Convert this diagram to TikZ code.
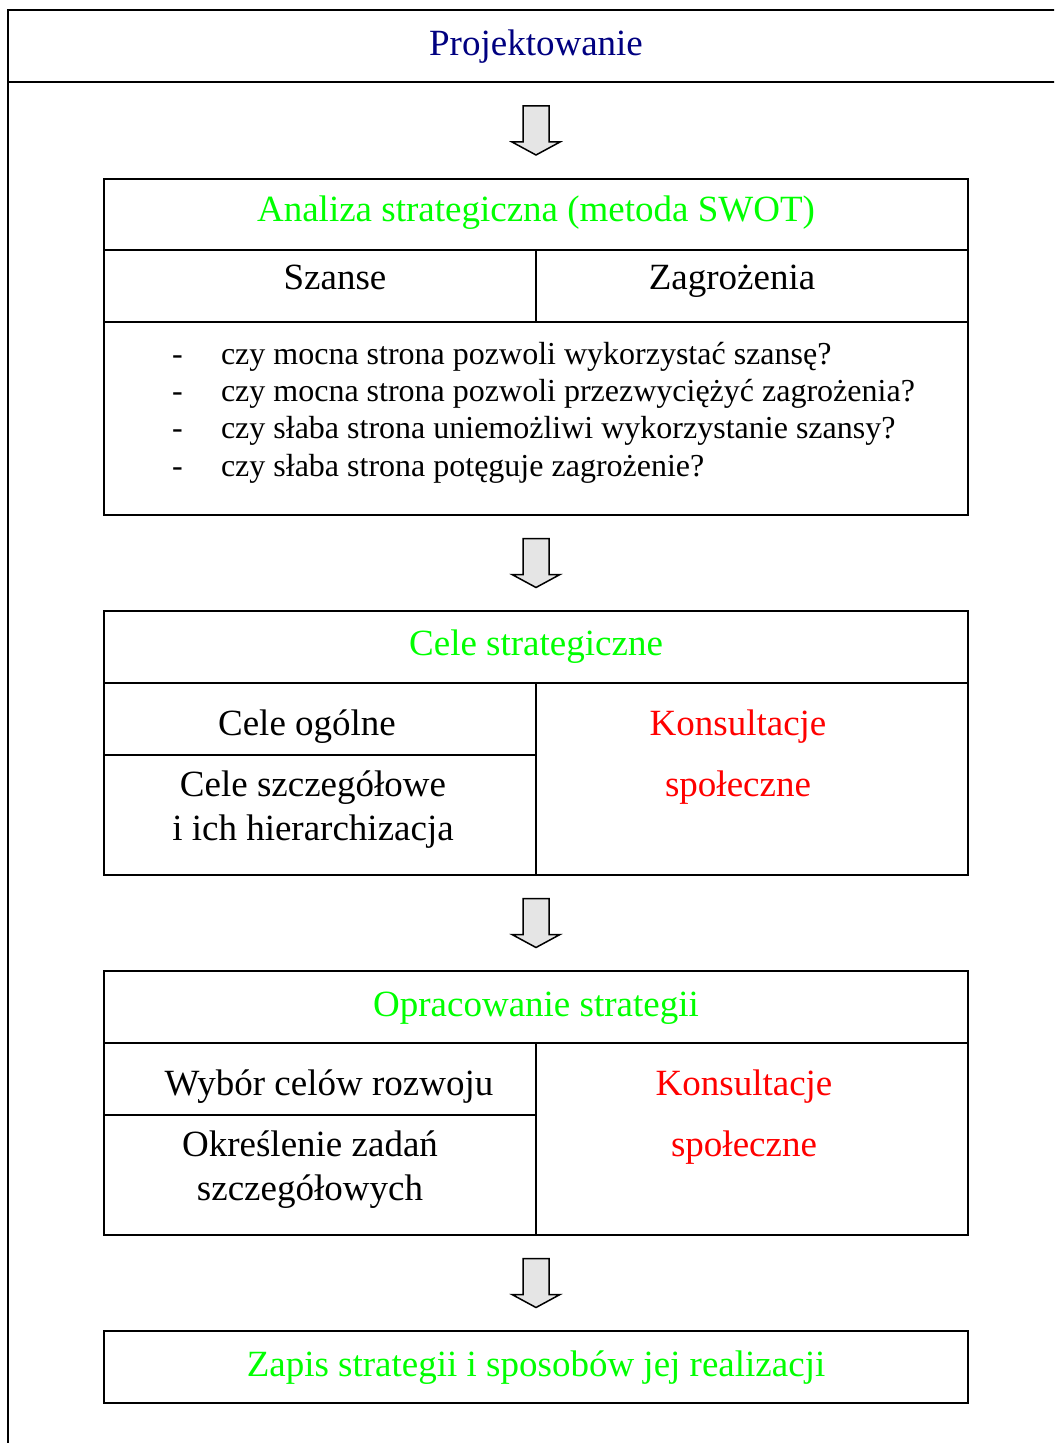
\documentclass[tikz,border=0pt]{standalone}
\usepackage{fontspec}
\setmainfont{Liberation Serif}
\usetikzlibrary{calc}
\newlength{\du}
\setlength{\du}{0.5pt}
\definecolor{headcolor}{rgb}{0.000000, 0.000000, 0.502000}
\definecolor{titlecolor}{rgb}{0.000000, 1.000000, 0.000000}
\definecolor{notecolor}{rgb}{1.000000, 0.000000, 0.000000}
\definecolor{arrowfill}{rgb}{0.900000, 0.900000, 0.900000}
\tikzset{
  panel/.style={draw, line width=2\du, inner sep=0pt, outer sep=0pt, minimum width=864\du},
  rule/.style={line width=2\du},
  label/.style={anchor=base, inner sep=0pt, outer sep=0pt, align=center,
    font=\fontsize{18.5}{22}\selectfont},
  item/.style={anchor=base west, inner sep=0pt, outer sep=0pt,
    font=\fontsize{16}{19}\selectfont},
  downarrow/.pic={
    \draw[line width=1.5\du, fill=arrowfill, line join=miter]
      (-13\du,24.5\du)--(-13\du,-11.5\du)--(-24\du,-11.5\du)--(0\du,-24.5\du)
      --(24\du,-11.5\du)--(13\du,-11.5\du)--(13\du,24.5\du)--cycle;
  }
}
\begin{document}
\begin{tikzpicture}
\pgftransformxscale{1.000000}
\pgftransformyscale{-1.000000}
\clip (0\du,0\du) rectangle (1054\du,1443\du);
% header frame
\node[panel, minimum width=1054\du, minimum height=72\du] (hdr) at (535\du,46\du) {};
\draw[rule] (hdr.south west)--(8\du,1460\du);
\node[label, color=headcolor] (projekt) at (536\du,56\du) {Projektowanie};
% swot panel
\node[panel, minimum height=336\du] (swot) at (536\du,347\du) {};
\draw[rule] (104\du,250\du)--(968\du,250\du);
\draw[rule] (104\du,322\du)--(968\du,322\du);
\draw[rule] (536\du,250\du)--(536\du,322\du);
\node[label, color=titlecolor] (swottitle) at (536\du,222\du) {Analiza strategiczna (metoda SWOT)};
\node[label] (szanse) at (335\du,290\du) {Szanse};
\node[label] (zagrozenia) at (732\du,290\du) {Zagrożenia};
\node[item] (dasha) at (172\du,365\du) {-};
\node[item] (itema) at (221\du,365\du) {czy mocna strona pozwoli wykorzystać szansę?};
\node[item] (dashb) at (172\du,401\du) {-};
\node[item] (itemb) at (221\du,401\du) {czy mocna strona pozwoli przezwyciężyć zagrożenia?};
\node[item] (dashc) at (172\du,438\du) {-};
\node[item] (itemc) at (221\du,438\du) {czy słaba strona uniemożliwi wykorzystanie szansy?};
\node[item] (dashd) at (172\du,476\du) {-};
\node[item] (itemd) at (221\du,476\du) {czy słaba strona potęguje zagrożenie?};
% goals panel
\node[panel, minimum height=264\du] (cele) at (536\du,743\du) {};
\draw[rule] (104\du,683\du)--(968\du,683\du);
\draw[rule] (104\du,755\du)--(536\du,755\du);
\draw[rule] (536\du,683\du)--(536\du,875\du);
\node[label, color=titlecolor] (celetitle) at (536\du,655\du) {Cele strategiczne};
\node[label] (ogolne) at (307\du,735\du) {Cele ogólne};
\node[label] (szczegolowe) at (313\du,840\du) {Cele szczegółowe\\i ich hierarchizacja};
\node[label, color=notecolor] (konsulta) at (738\du,796\du) {Konsultacje\\[8.5pt]społeczne};
% strategy panel
\node[panel, minimum height=264\du] (oprac) at (536\du,1103\du) {};
\draw[rule] (104\du,1043\du)--(968\du,1043\du);
\draw[rule] (104\du,1115\du)--(536\du,1115\du);
\draw[rule] (536\du,1043\du)--(536\du,1235\du);
\node[label, color=titlecolor] (opractitle) at (536\du,1016\du) {Opracowanie strategii};
\node[label] (wybor) at (329\du,1095\du) {Wybór celów rozwoju};
\node[label] (zadania) at (310\du,1200\du) {Określenie zadań\\szczegółowych};
\node[label, color=notecolor] (konsultb) at (744\du,1156\du) {Konsultacje\\[8.5pt]społeczne};
% record panel
\node[panel, minimum height=72\du] (zapis) at (536\du,1367\du) {};
\node[label, color=titlecolor] (zapistitle) at (536\du,1376\du) {Zapis strategii i sposobów jej realizacji};
% arrows
\coordinate (arra) at ($(swot.north |- hdr.south)!0.5!(swot.north)$);
\coordinate (arrb) at ($(swot.south)!0.5!(cele.north)$);
\coordinate (arrc) at ($(cele.south)!0.5!(oprac.north)$);
\coordinate (arrd) at ($(oprac.south)!0.5!(zapis.north)$);
\pic at (arra) {downarrow};
\pic at (arrb) {downarrow};
\pic at (arrc) {downarrow};
\pic at (arrd) {downarrow};
\end{tikzpicture}
\end{document}
